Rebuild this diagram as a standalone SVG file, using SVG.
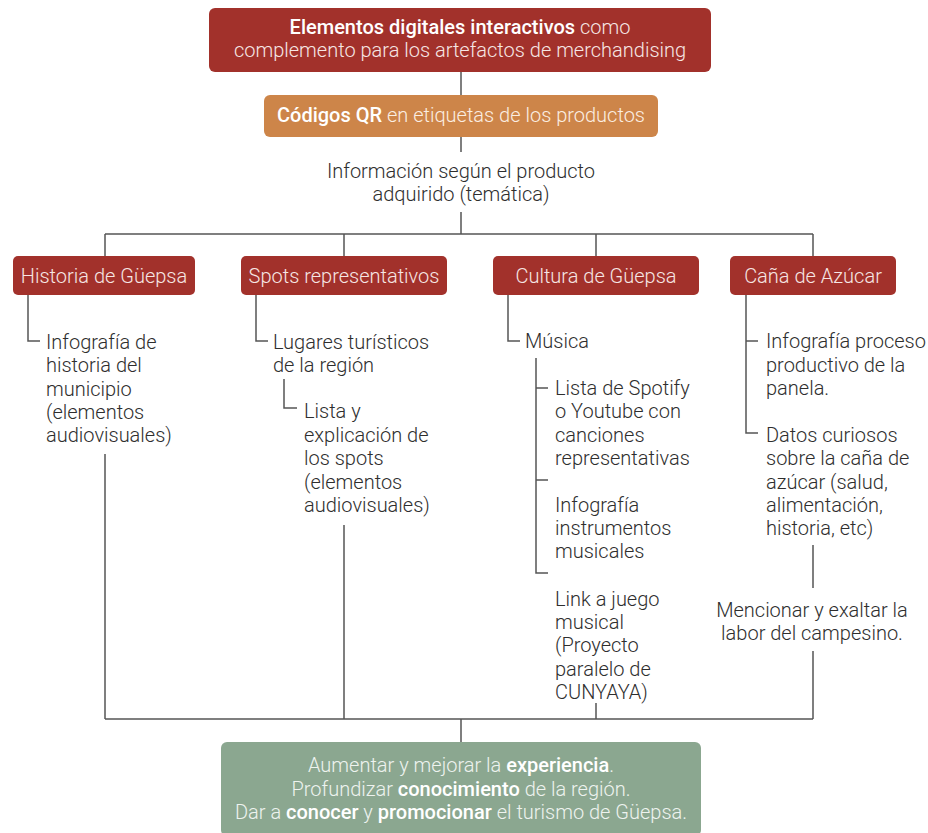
<svg xmlns="http://www.w3.org/2000/svg" width="928" height="833" viewBox="0 0 928 833">
<style>
text{font-family:Roboto,"Liberation Sans",sans-serif;font-size:20px;font-weight:300}
.w{fill:#f6e6e4}
.wb{fill:#ffffff;font-weight:500}
.d{fill:#2e2e2e}
.c{text-anchor:middle}
.red{fill:#a2312b}
.con{stroke:#555;stroke-width:1.5;fill:none}
</style>
<rect width="928" height="833" fill="#fff"/>
<g id="connectors">
<path class="con" d="M461 72V96M461 137V152M461 212V234M105 234H813M105 234V256M344 234V256M596 234V256M813 234V256"/>
<path class="con" d="M28 295V341H40M256 295V341H268M284 379V408H297"/>
<path class="con" d="M508 295V341H520M536 358V573H548M536 388H548M536 480H548"/>
<path class="con" d="M746 295V433H758M746 341H758M813 545V588M813 651V719"/>
<path class="con" d="M105 454V719M344 525V719M596 703V719M105 719H813M461 719V742"/>
</g>
<g id="top">
<rect x="209" y="8" width="502" height="64" rx="6" class="red"/>
<text x="460" y="34" class="c w"><tspan class="wb">Elementos digitales interactivos</tspan> como</text>
<text x="460" y="57" class="c w">complemento para los artefactos de merchandising</text>
</g>
<g id="qr">
<rect x="264" y="95" width="394" height="42" rx="6" fill="#cd8549"/>
<text x="461" y="122" class="c" fill="#fbeee2"><tspan class="wb">Códigos QR</tspan> en etiquetas de los productos</text>
</g>
<g id="info">
<text x="461" y="178" class="c d">Información según el producto</text>
<text x="461" y="201" class="c d">adquirido (temática)</text>
</g>
<g id="historia">
<rect x="13" y="256" width="182" height="39" rx="5" class="red"/>
<text x="104" y="283" class="c w">Historia de Güepsa</text>
</g>
<g id="spots">
<rect x="241" y="256" width="206" height="39" rx="5" class="red"/>
<text x="344" y="283" class="c w">Spots representativos</text>
</g>
<g id="cultura">
<rect x="493" y="256" width="206" height="39" rx="5" class="red"/>
<text x="596" y="283" class="c w">Cultura de Güepsa</text>
</g>
<g id="cana">
<rect x="730" y="256" width="166" height="39" rx="5" class="red"/>
<text x="813" y="283" class="c w">Caña de Azúcar</text>
</g>
<g id="historia-info">
<text x="46" y="349" class="d">Infografía de</text>
<text x="46" y="372" class="d">historia del</text>
<text x="46" y="396" class="d">municipio</text>
<text x="46" y="419" class="d">(elementos</text>
<text x="46" y="442" class="d">audiovisuales)</text>
</g>
<g id="lugares">
<text x="273" y="349" class="d">Lugares turísticos</text>
<text x="273" y="372" class="d">de la región</text>
</g>
<g id="lista">
<text x="304" y="418" class="d">Lista y</text>
<text x="304" y="442" class="d">explicación de</text>
<text x="304" y="465" class="d">los spots</text>
<text x="304" y="489" class="d">(elementos</text>
<text x="304" y="512" class="d">audiovisuales)</text>
</g>
<g id="musica">
<text x="525" y="348" class="d">Música</text>
</g>
<g id="spotify">
<text x="555" y="395" class="d">Lista de Spotify</text>
<text x="555" y="418" class="d">o Youtube con</text>
<text x="555" y="442" class="d">canciones</text>
<text x="555" y="465" class="d">representativas</text>
</g>
<g id="instrumentos">
<text x="555" y="512" class="d">Infografía</text>
<text x="555" y="535" class="d">instrumentos</text>
<text x="555" y="558" class="d">musicales</text>
</g>
<g id="juego">
<text x="555" y="606" class="d">Link a juego</text>
<text x="555" y="629" class="d">musical</text>
<text x="555" y="652" class="d">(Proyecto</text>
<text x="555" y="676" class="d">paralelo de</text>
<text x="555" y="699" class="d">CUNYAYA)</text>
</g>
<g id="panela">
<text x="766" y="348" class="d">Infografía proceso</text>
<text x="766" y="372" class="d">productivo de la</text>
<text x="766" y="395" class="d">panela.</text>
</g>
<g id="datos">
<text x="766" y="442" class="d">Datos curiosos</text>
<text x="766" y="465" class="d">sobre la caña de</text>
<text x="766" y="489" class="d">azúcar (salud,</text>
<text x="766" y="512" class="d">alimentación,</text>
<text x="766" y="535" class="d">historia, etc)</text>
</g>
<g id="campesino">
<text x="812" y="617" class="c d">Mencionar y exaltar la</text>
<text x="812" y="640" class="c d">labor del campesino.</text>
</g>
<g id="resultado">
<rect x="221" y="742" width="480" height="94" rx="6" fill="#8ba790"/>
<text x="461" y="772" class="c" fill="#eef3ef">Aumentar y mejorar la <tspan class="wb">experiencia</tspan>.</text>
<text x="461" y="796" class="c" fill="#eef3ef">Profundizar <tspan class="wb">conocimiento</tspan> de la región.</text>
<text x="461" y="819" class="c" fill="#eef3ef">Dar a <tspan class="wb">conocer</tspan> y <tspan class="wb">promocionar</tspan> el turismo de Güepsa.</text>
</g>
</svg>
